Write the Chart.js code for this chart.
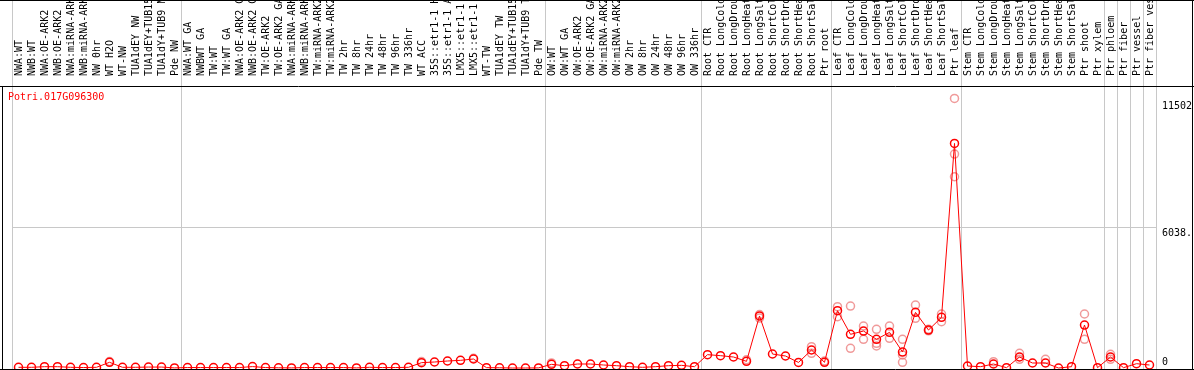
<!DOCTYPE html>
<html>
<head>
<meta charset="utf-8">
<script src="https://cdn.jsdelivr.net/npm/chart.js@4"></script>
<style>
html,body{margin:0;padding:0;background:#fff}
canvas{display:block}
</style>
</head>
<body>
<canvas id="chart" width="1194" height="370"></canvas>
<script>
let geneName="Potri.017G096300"
let samples=["NWA:WT","NWB:WT","NWA:OE-ARK2","NWB:OE-ARK2","NWA:miRNA-ARK2","NWB:miRNA-ARK2","NW 0hr","WT H2O","WT-NW","TUA1dEY NW","TUA1dEY+TUB15 NW","TUA1dY+TUB9 NW","Pde NW",
"NWA:WT GA","NWBWT GA","TW:WT","TW:WT GA","NWA:OE-ARK2 GA","NWB:OE-ARK2 GA","TW:OE-ARK2","TW:OE-ARK2 GA","NWA:miRNA-ARK2 GA","NWB:miRNA-ARK2 GA","TW:miRNA-ARK2","TW:miRNA-ARK2 GA",
"TW 2hr","TW 8hr","TW 24hr","TW 48hr","TW 96hr","TW 336hr","WT ACC","35S::etr1-1 H2O","35S::etr1-1 ACC","LMX5::etr1-1 H2O","LMX5::etr1-1 ACC","WT-TW","TUA1dEY TW","TUA1dEY+TUB15 TW","TUA1dY+TUB9 TW","Pde TW",
"OW:WT","OW:WT GA","OW:OE-ARK2","OW:OE-ARK2 GA","OW:miRNA-ARK2","OW:miRNA-ARK2 GA","OW 2hr","OW 8hr","OW 24hr","OW 48hr","OW 96hr","OW 336hr",
"Root CTR","Root LongCold","Root LongDrought","Root LongHeat","Root LongSalt","Root ShortCold","Root ShortDrought","Root ShortHeat","Root ShortSalt","Ptr root",
"Leaf CTR","Leaf LongCold","Leaf LongDrought","Leaf LongHeat","Leaf LongSalt","Leaf ShortCold","Leaf ShortDrought","Leaf ShortHeat","Leaf ShortSalt","Ptr leaf",
"Stem CTR","Stem LongCold","Stem LongDrought","Stem LongHeat","Stem LongSalt","Stem ShortCold","Stem ShortDrought","Stem ShortHeat","Stem ShortSalt","Ptr shoot",
"Ptr xylem","Ptr phloem","Ptr fiber","Ptr vessel","Ptr fiber vessel"]
let expression=[30,30,56,56,30,20,30,245,30,30,40,40,5,
20,20,20,20,20,60,20,10,5,20,20,20,
20,5,30,20,20,30,230,258,301,330,387,15,10,0,0,5,
158,100,172,172,129,100,57,30,57,100,115,57,
574,531,473,287,2240,602,516,240,775,245,
2466,1449,1592,1234,1535,688,2395,1635,2180,9668,
86,57,172,14,473,215,215,0,57,1850,
14,473,14,186,129]
// single replicates that sit away from the mean
let repSamples=["WT H2O","WT ACC","LMX5::etr1-1 ACC","OW:WT","Root LongHeat","Root LongSalt","Root LongSalt","Root ShortSalt","Root ShortSalt","Ptr root",
"Leaf CTR","Leaf CTR","Leaf LongCold","Leaf LongCold","Leaf LongDrought","Leaf LongDrought","Leaf LongHeat","Leaf LongHeat","Leaf LongHeat",
"Leaf LongSalt","Leaf LongSalt","Leaf ShortCold","Leaf ShortCold","Leaf ShortCold","Leaf ShortDrought","Leaf ShortDrought","Leaf ShortHeat","Leaf ShortHeat",
"Leaf ShortSalt","Leaf ShortSalt","Ptr leaf","Ptr leaf","Ptr leaf","Stem LongDrought","Stem LongSalt","Stem LongSalt","Stem ShortDrought",
"Ptr shoot","Ptr shoot","Ptr phloem","Ptr phloem"]
let repValues=[280,280,420,220,350,2300,2150,918,631,300,
2639,2209,2668,846,1807,1234,1664,1061,947,
1807,1277,1234,559,244,2711,2137,1664,1600,
2324,1994,11603,9208,8233,273,631,373,373,
2324,1234,588,373]
let yTicks=[0,6038,11502]
let yTickText=["0","6038.","11502"]
let groupEnds=["Pde NW","Pde TW","OW 336hr","Ptr root","Ptr leaf","Ptr xylem","Ptr phloem","Ptr fiber","Ptr vessel","Ptr fiber vessel"]

let font="'DejaVu Sans Mono', monospace"

let frame={
id:"frame",
beforeDatasetsDraw(chart){
let ctx=chart.ctx
let x=chart.scales.x
let step=x.getPixelForValue(1)-x.getPixelForValue(0)
ctx.save()
ctx.strokeStyle="#c8c8c8"
ctx.lineWidth=1
let edges=[x.getPixelForValue(0)-step/2]
groupEnds.forEach(name=>{
edges.push(x.getPixelForValue(samples.indexOf(name))+step/2)
})
edges.forEach(px=>{
let p=Math.floor(px)+0.5
ctx.beginPath()
ctx.moveTo(p,0)
ctx.lineTo(p,370)
ctx.stroke()
})
ctx.restore()
},
afterDatasetsDraw(chart){
let ctx=chart.ctx
let a=chart.chartArea
let y=chart.scales.y
ctx.save()
ctx.strokeStyle="#000"
ctx.lineWidth=1
ctx.beginPath()
ctx.moveTo(0,0.5);ctx.lineTo(1194,0.5)
ctx.moveTo(0,a.top+0.5);ctx.lineTo(1194,a.top+0.5)
ctx.moveTo(0,369.5);ctx.lineTo(1194,369.5)
ctx.moveTo(2.5,a.top);ctx.lineTo(2.5,370)
ctx.moveTo(1192.5,0);ctx.lineTo(1192.5,370)
ctx.stroke()
ctx.font="10px "+font
ctx.fillStyle="#000"
ctx.textAlign="left"
yTicks.forEach((v,i)=>{
let py=y.getPixelForValue(v)
if(v===0){
ctx.textBaseline="bottom"
ctx.fillText(yTickText[i],1162,py-1)
}else{
ctx.textBaseline="top"
ctx.fillText(yTickText[i],1162,py+1)
}
})
ctx.fillStyle="#ff0000"
ctx.textBaseline="alphabetic"
ctx.fillText(geneName,8,100)
ctx.restore()
}
}

new Chart(document.getElementById("chart"),{
type:"line",
data:{
labels:samples,
datasets:[{
data:expression,
borderColor:"#ff0000",
borderWidth:1,
pointRadius:4,
pointBorderWidth:1.5,
pointBorderColor:"#ff0000",
pointBackgroundColor:"rgba(255,255,255,0)",
tension:0,
clip:false,
order:1
},{
data:repSamples.map((s,i)=>({x:s,y:repValues[i]})),
showLine:false,
pointRadius:4,
pointBorderWidth:1.5,
pointBorderColor:"rgba(235,120,120,0.75)",
pointBackgroundColor:"rgba(255,255,255,0)",
clip:false,
order:2
}]
},
options:{
responsive:false,
devicePixelRatio:1,
animation:false,
layout:{autoPadding:false,padding:{left:12,right:0,top:0,bottom:2}},
plugins:{legend:{display:false},tooltip:{enabled:false}},
scales:{
x:{
position:"top",
offset:true,
grid:{display:false},
border:{display:false},
ticks:{
autoSkip:false,
minRotation:90,
maxRotation:90,
padding:2,
labelOffset:13,
color:"#000",
font:{family:font,size:10}
},
afterFit(s){s.height=86}
},
y:{
position:"right",
min:0,
max:12140,
border:{display:false},
grid:{
drawTicks:false,
color:c=>c.tick&&c.tick.value===6038?"#c8c8c8":"rgba(0,0,0,0)"
},
ticks:{display:false},
afterBuildTicks(s){s.ticks=yTicks.map(v=>({value:v}))},
afterFit(s){s.width=38}
}
}
},
plugins:[frame]
})
</script>
</body>
</html>
